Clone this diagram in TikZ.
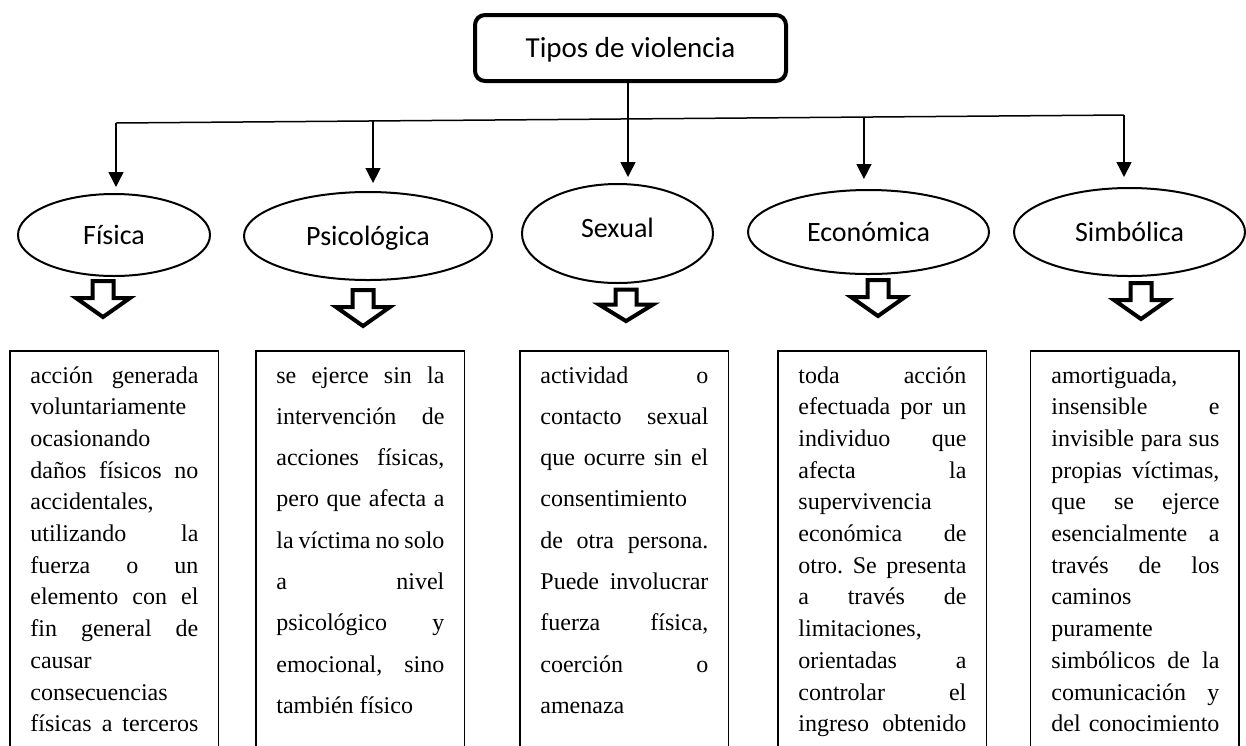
\documentclass[tikz,border=0pt]{standalone}
\usepackage{fontspec}
\setmainfont{Liberation Serif}
\newfontfamily\labfont{Carlito}
\newfontfamily\bodyfont{Liberation Serif}
\usetikzlibrary{arrows.meta,shapes.geometric,calc}
\newlength\twd \setlength\twd{84pt}
\newcommand\jline[1]{\hbox to \twd{\spaceskip=0pt plus 1fil\relax #1}}
\newcommand\lline[1]{\hbox to \twd{#1\hfil}}
\tikzset{
  topbox/.style={draw, rounded corners=5pt, line width=2pt, minimum width=155.5pt, minimum height=33pt, inner sep=0,
    font=\labfont\fontsize{14.5pt}{17pt}\selectfont, text height=9.5pt, text depth=0pt},
  ell/.style={draw, ellipse, line width=1pt, inner sep=0,
    font=\labfont\fontsize{14pt}{17pt}\selectfont, text height=9.2pt, text depth=0pt},
  conn/.style={line width=0.75pt, -{Triangle[width=7.5pt,length=7.5pt]}},
  tbox/.style={draw, line width=0.75pt, minimum width=104.25pt, minimum height=250pt, anchor=north, inner sep=0},
  txt/.style={anchor=base west, inner sep=0, font=\bodyfont\fontsize{12pt}{15.85pt}\selectfont\frenchspacing},
  hollow/.pic={\draw[line width=2pt, line join=miter, fill=white]
     (-10.5,2) -- (10.5,2) -- (10.5,19) -- (27,19) -- (0,38) -- (-27,19) -- (-10.5,19) -- cycle;}
}
\begin{document}
\begin{tikzpicture}[x=0.5pt,y=-0.5pt]
\useasboundingbox (0,0) rectangle (1246,745);
\clip (0,0) rectangle (1246,745);

% top node
\node[topbox] (top) at (630.5,48) {Tipos de violencia};

% ellipses
\node[ell, minimum width=96pt, minimum height=41pt] (fis) at (114,235) {Física};
\node[ell, minimum width=124pt, minimum height=44pt] (psi) at (368,236) {Psicológica};
\node[ell, minimum width=95.5pt, minimum height=49.5pt, text depth=5.5pt] (sex) at (617.5,233.5) {Sexual};
\node[ell, minimum width=120.5pt, minimum height=42pt] (eco) at (868.5,232) {Económica};
\node[ell, minimum width=115.5pt, minimum height=44pt] (sim) at (1129.5,232) {Simbólica};

% connectors
\coordinate (hL) at (116,123);
\coordinate (hR) at (1124,115);
\draw[line width=0.75pt] (hL) -- (hR);
\coordinate (aP) at ($(hL)!0.255!(hR)$);
\coordinate (aE) at ($(hL)!0.742!(hR)$);
\coordinate (aS) at ([xshift=-1.25pt]top.south);
\draw[conn, shorten >=3pt] (hL) -- (hL |- fis.north);
\draw[conn, shorten >=4pt] (aP) -- (aP |- psi.north);
\draw[conn, shorten >=3pt] (aS) -- (aS |- sex.north);
\draw[conn, shorten >=5pt] (aE) -- (aE |- eco.north);
\draw[conn, shorten >=5pt] (hR) -- (hR |- sim.north);

% hollow arrows
\pic at (103,279) {hollow};
\pic at (363,288) {hollow};
\pic[yscale=0.87] at (626,288) {hollow};
\pic at (878,278) {hollow};
\pic at (1141,281) {hollow};

% text boxes
\node[tbox] (b1) at (114,350) {};
\node[tbox] (b2) at (360,350) {};
\node[tbox] (b3) at (624,350) {};
\node[tbox] (b4) at (882,350) {};
\node[tbox] (b5) at (1134.5,350) {};

\node[txt] (t1) at (30,383) {\vtop{\baselineskip=15.85pt
  \jline{acción generada}
  \lline{voluntariamente}
  \lline{ocasionando}
  \jline{daños físicos no}
  \lline{accidentales,}
  \jline{utilizando la}
  \jline{fuerza o un}
  \jline{elemento con el}
  \jline{fin general de}
  \lline{causar}
  \lline{consecuencias}
  \jline{físicas a terceros}}};

\node[txt] (t2) at (276,383) {\vtop{\baselineskip=20.65pt
  \jline{se ejerce sin la}
  \jline{intervención de}
  \jline{acciones físicas,}
  \jline{pero que afecta a}
  \jline{la víctima no solo}
  \jline{a nivel}
  \jline{psicológico y}
  \jline{emocional, sino}
  \lline{también físico}}};

\node[txt] (t3) at (540,383) {\vtop{\baselineskip=20.65pt
  \jline{actividad o}
  \jline{contacto sexual}
  \jline{que ocurre sin el}
  \lline{consentimiento}
  \jline{de otra persona.}
  \jline{Puede involucrar}
  \jline{fuerza física,}
  \jline{coerción o}
  \lline{amenaza}}};

\node[txt] (t4) at (798,383) {\vtop{\baselineskip=15.85pt
  \jline{toda acción}
  \jline{efectuada por un}
  \jline{individuo que}
  \jline{afecta la}
  \lline{supervivencia}
  \jline{económica de}
  \jline{otro. Se presenta}
  \jline{a través de}
  \lline{limitaciones,}
  \jline{orientadas a}
  \jline{controlar el}
  \jline{ingreso obtenido}}};

\node[txt] (t5) at (1051,383) {\vtop{\baselineskip=15.85pt
  \lline{amortiguada,}
  \jline{insensible e}
  \jline{invisible para sus}
  \jline{propias víctimas,}
  \jline{que se ejerce}
  \jline{esencialmente a}
  \jline{través de los}
  \lline{caminos}
  \lline{puramente}
  \jline{simbólicos de la}
  \jline{comunicación y}
  \jline{del conocimiento}}};
\end{tikzpicture}
\end{document}
